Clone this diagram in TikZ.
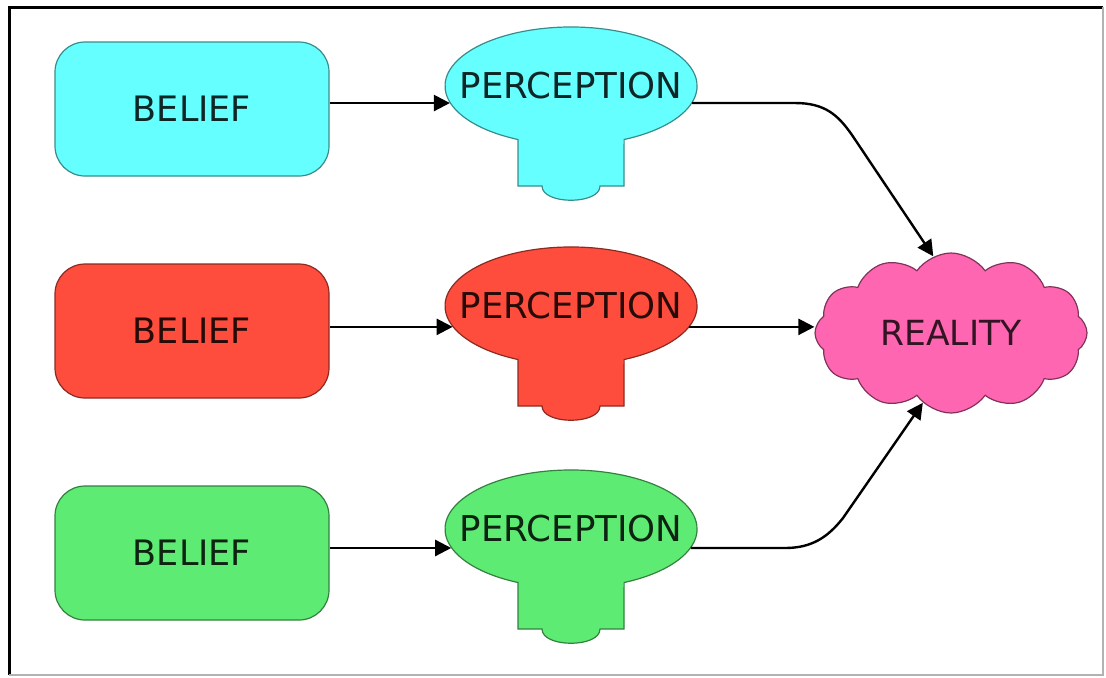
\documentclass[tikz,border=0pt]{standalone}
\usepackage{fontspec}
\setmainfont{DejaVu Sans}
\usetikzlibrary{shapes.geometric, shapes.symbols, arrows.meta}

\definecolor{belcyan}{RGB}{102,255,255}
\definecolor{belred}{RGB}{255,77,61}
\definecolor{belgreen}{RGB}{94,235,115}
\definecolor{realpink}{RGB}{255,102,178}

\begin{document}
\begin{tikzpicture}[
    x=0.5pt,y=-0.5pt,
    belief/.style={draw=#1!55!black, fill=#1, line width=0.6pt, rounded corners=15pt,
      minimum width=137pt, minimum height=67pt, text=#1!15!black,
      font=\fontsize{17.5}{20}\selectfont},
    perc/.style={draw=#1!55!black, fill=#1, line width=0.6pt},
    percnode/.style={ellipse, inner xsep=-40pt, inner ysep=-5pt,
      minimum width=126pt, minimum height=59pt, text=#1!15!black,
      font=\fontsize{17.8}{20}\selectfont},
    reality/.style={cloud, cloud puffs=12, cloud puff arc=110, aspect=1.8,
      draw=realpink!50!black, fill=realpink, line width=0.6pt, inner sep=0pt,
      minimum width=136pt, minimum height=80pt, text=realpink!20!black,
      font=\fontsize{17.3}{20}\selectfont},
    link/.style={line width=1.2pt, -{Triangle[length=8pt,width=8pt]}}
    ]
    \useasboundingbox (0,0) rectangle (1106,677);
    % frame
    \draw[line width=1.5pt] (9,675) -- (9,7) -- (1103,7);
    \draw[gray!60, line width=0.8pt] (1103,7) -- (1103,675) -- (9,675);

    % beliefs
    \node[belief=belcyan] (b1) at (192,109) {BELIEF};
    \node[belief=belred] (b2) at (192,331) {BELIEF};
    \node[belief=belgreen] (b3) at (192,553) {BELIEF};

    % perceptions
    \draw[perc=belcyan, shift={(571,86)}] (-53,53.5)
      arc[start angle=114.9, end angle=425.1, x radius=126, y radius=59]
      -- (53,100) -- (29,100) .. controls (29,119) and (-29,119) .. (-29,100)
      -- (-53,100) -- cycle;
    \node[percnode=belcyan] (p1) at (571,86) {PERCEPTION};
    \draw[perc=belred, shift={(571,306)}] (-53,53.5)
      arc[start angle=114.9, end angle=425.1, x radius=126, y radius=59]
      -- (53,100) -- (29,100) .. controls (29,119) and (-29,119) .. (-29,100)
      -- (-53,100) -- cycle;
    \node[percnode=belred] (p2) at (571,306) {PERCEPTION};
    \draw[perc=belgreen, shift={(571,529)}] (-53,53.5)
      arc[start angle=114.9, end angle=425.1, x radius=126, y radius=59]
      -- (53,100) -- (29,100) .. controls (29,119) and (-29,119) .. (-29,100)
      -- (-53,100) -- cycle;
    \node[percnode=belgreen] (p3) at (571,529) {PERCEPTION};

    % reality
    \node[reality] (r) at (951,333) {REALITY};

    % arrows
    \draw[link] (p1.188 -| b1.east) -- (p1.188);
    \draw[link] (p2.190 -| b2.east) -- (p2.190);
    \draw[link] (p3.189 -| b3.east) -- (p3.189);
    \draw[link] (p1.352) -- (795,103) .. controls (825,103) and (838,115) .. (852,135) -- (r.103);
    \draw[link] (p2.350) -- (p2.350 -| r.west);
    \draw[link] (p3.351) -- (785,548) .. controls (812,548) and (828,537) .. (843,518) -- (r.248);
  \end{tikzpicture}
\end{document}
